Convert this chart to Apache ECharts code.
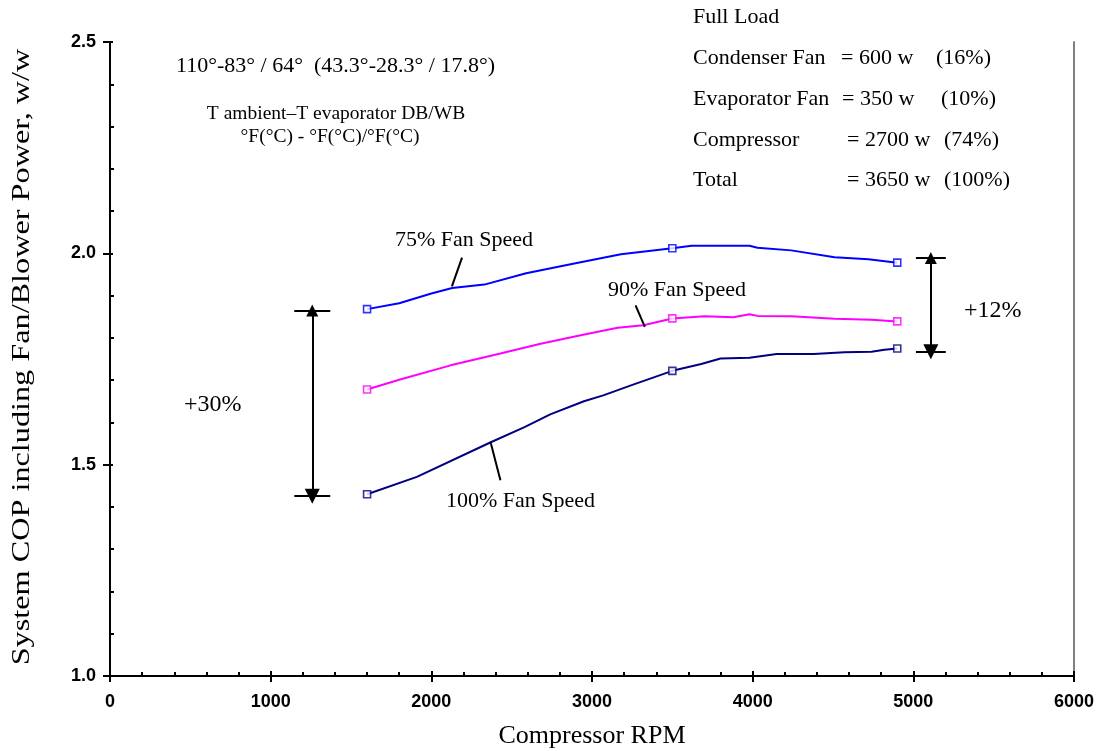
<!DOCTYPE html>
<html>
<head>
<meta charset="utf-8">
<script src="https://cdn.jsdelivr.net/npm/echarts@6/dist/echarts.min.js"></script>
<style>html,body{margin:0;padding:0;background:#fff}#c{width:1098px;height:751px}</style>
</head>
<body>
<div id="c"></div>
<script>
// ---- data ----
const xTicks = [0, 1000, 2000, 3000, 4000, 5000, 6000];
const yTicks = [1.0, 1.5, 2.0, 2.5];

const rpm75 = [1600,1800,2000,2130,2330,2590,2890,3180,3500,3620,3980,4030,4240,4510,4720,4900];
const cop75 = [1.868,1.882,1.905,1.918,1.926,1.953,1.976,1.998,2.012,2.018,2.018,2.013,2.007,1.991,1.986,1.978];

const rpm90 = [1600,1800,2120,2430,2680,2930,3160,3320,3500,3700,3880,3980,4030,4240,4510,4740,4900];
const cop90 = [1.678,1.701,1.735,1.763,1.786,1.806,1.824,1.830,1.846,1.851,1.849,1.856,1.852,1.851,1.845,1.843,1.839];

const rpm100 = [1600,1910,2370,2580,2740,2950,3070,3260,3500,3680,3800,3980,4150,4380,4570,4740,4820,4900];
const cop100 = [1.430,1.471,1.553,1.589,1.619,1.650,1.664,1.690,1.722,1.738,1.751,1.753,1.762,1.762,1.766,1.767,1.772,1.775];

const markerRpm = [1600, 3500, 4900];

const seriesNames = ['75% Fan Speed', '90% Fan Speed', '100% Fan Speed'];
const xTitle = 'Compressor RPM';
const yTitle = 'System COP including Fan/Blower Power, w/w';

// annotation geometry in data units
const leader75 = [[2191, 1.990], [2128, 1.922]];
const leader90 = [[3271, 1.877], [3329, 1.826]];
const leader100 = [[2368, 1.554], [2430, 1.463]];
const arrow30 = { x: 1259, top: 1.865, bottom: 1.4255, half: 112 };
const arrow12 = { x: 5109, top: 1.989, bottom: 1.767, half: 93 };

const condText = '110°-83° / 64°  (43.3°-28.3° / 17.8°)';
const legendLine1 = 'T ambient–T evaporator DB/WB';
const legendLine2 = '°F(°C) - °F(°C)/°F(°C)';
const loadTitle = 'Full Load';
const loadLabels = ['Condenser Fan', 'Evaporator Fan', 'Compressor', 'Total'];
const loadValues = ['= 600 w', '= 350 w', '= 2700 w', '= 3650 w'];
const loadPercents = ['(16%)', '(10%)', '(74%)', '(100%)'];

// ---- build ----
const zip = (a, b) => a.map((v, i) => [v, b[i]]);
const d75 = zip(rpm75, cop75), d90 = zip(rpm90, cop90), d100 = zip(rpm100, cop100);
const marks = d => d.filter(p => markerRpm.includes(p[0]));
const colors = ['#0000ff', '#ff00ff', '#000080'];
const serif = 'Liberation Serif';

function lineSeries(name, data, color) {
  return { name, type: 'line', data, xAxisIndex: 0, yAxisIndex: 0, showSymbol: false, symbol: 'none',
    lineStyle: { color, width: 2 }, z: 3, silent: true, animation: false };
}
function markerSeries(data, color) {
  return { type: 'scatter', data: marks(data), symbol: 'rect', symbolSize: 7, z: 5, silent: true,
    itemStyle: { color: '#fff', borderColor: color, borderWidth: 1.6 }, animation: false };
}
function cap(a, y) { return { coords: [[a.x - a.half, y], [a.x + a.half, y]] }; }

const segs = [
  { coords: leader75 }, { coords: leader90 }, { coords: leader100 },
  cap(arrow30, arrow30.top), cap(arrow30, arrow30.bottom),
  cap(arrow12, arrow12.top), cap(arrow12, arrow12.bottom)
];
const arrows = [
  { coords: [[arrow30.x, arrow30.top], [arrow30.x, arrow30.bottom]] },
  { coords: [[arrow12.x, arrow12.top], [arrow12.x, arrow12.bottom]] }
];

const tickFont = { fontFamily: 'Liberation Sans', fontWeight: 'bold', fontSize: 18, color: '#000' };

const option = {
  animation: false,
  backgroundColor: '#fff',
  grid: { left: 110, right: 24, top: 42, bottom: 75, containLabel: false, outerBoundsMode: 'none' },
  xAxis: [
    { type: 'value', min: 0, max: 6000, interval: 1000, position: 'bottom',
      name: xTitle, nameLocation: 'middle', nameGap: 47, nameMoveOverlap: false,
      nameTextStyle: { fontFamily: serif, fontSize: 26, color: '#000' },
      axisLine: { show: true, lineStyle: { color: '#000', width: 2 } },
      axisTick: { show: true, length: 6, lineStyle: { color: '#000', width: 2 } },
      axisLabel: Object.assign({ margin: 17, formatter: v => xTicks.includes(v) ? String(v) : '' }, tickFont),
      splitLine: { show: false } },
    { type: 'value', min: 0, max: 6000, interval: 1000, position: 'bottom',
      axisLine: { show: false }, axisLabel: { show: false }, splitLine: { show: false },
      axisTick: { show: true, inside: true, length: 5, lineStyle: { color: '#000', width: 2 } },
      minorTick: { show: true, splitNumber: 5, length: 4, lineStyle: { color: '#000', width: 2 } } }
  ],
  yAxis: [
    { type: 'value', min: 1, max: 2.5, interval: 0.5, position: 'left',
      axisLine: { show: true, lineStyle: { color: '#000', width: 2 } },
      axisTick: { show: true, length: 7, lineStyle: { color: '#000', width: 2 } },
      axisLabel: Object.assign({ margin: 14, formatter: v => yTicks.some(t => Math.abs(t - v) < 1e-9) ? v.toFixed(1) : '' }, tickFont),
      splitLine: { show: false } },
    { type: 'value', min: 1, max: 2.5, interval: 0.5, position: 'left',
      axisLine: { show: false }, axisLabel: { show: false }, splitLine: { show: false },
      axisTick: { show: true, inside: true, length: 3, lineStyle: { color: '#000', width: 2 } },
      minorTick: { show: true, splitNumber: 5, length: 4, lineStyle: { color: '#000', width: 2 } } },
    { type: 'value', min: 1, max: 2.5, position: 'right',
      axisLine: { show: true, lineStyle: { color: '#808080', width: 2 } },
      axisTick: { show: false }, axisLabel: { show: false }, splitLine: { show: false } }
  ],
  series: [
    lineSeries(seriesNames[0], d75, colors[0]),
    lineSeries(seriesNames[1], d90, colors[1]),
    lineSeries(seriesNames[2], d100, colors[2]),
    markerSeries(d75, colors[0]),
    markerSeries(d90, colors[1]),
    markerSeries(d100, colors[2]),
    { type: 'lines', coordinateSystem: 'cartesian2d', data: segs, silent: true, z: 4,
      lineStyle: { color: '#000', width: 2, opacity: 1 }, symbol: 'none', animation: false },
    { type: 'lines', coordinateSystem: 'cartesian2d', data: arrows, silent: true, z: 4,
      lineStyle: { color: '#000', width: 2, opacity: 1 }, symbol: ['triangle', 'triangle'], symbolSize: [12, 15],
      itemStyle: { color: '#000' }, animation: false }
  ],
  graphic: []
};

function txt(text, x, y, size, align) {
  return { type: 'text', x, y, silent: true, z: 10,
    style: { text, fill: '#000', font: size + 'px "' + serif + '"', fontFamily: serif, fontSize: size,
      textAlign: align || 'left', align: align || 'left', textVerticalAlign: 'middle', verticalAlign: 'middle' } };
}
const g = option.graphic;
const yt = txt(yTitle, 22, 357, 26, 'center');
yt.rotation = Math.PI / 2;
yt.scaleX = 1.24;
g.push(yt);
g.push(txt(condText, 176, 66, 22));
g.push(txt(legendLine1, 336, 114, 19.5, 'center'));
g.push(txt(legendLine2, 330, 137, 19.5, 'center'));
g.push(txt(seriesNames[0], 395, 240, 22));
g.push(txt(seriesNames[1], 608, 290, 22));
g.push(txt(seriesNames[2], 446, 501, 22));
g.push(txt('+30%', 184, 405, 24));
g.push(txt('+12%', 964, 311, 24));
g.push(txt(loadTitle, 693, 17, 22));
const rowY = [58, 99, 140, 180];
const valX = [841, 842, 847, 847];
const pctX = [936, 941, 944, 944];
loadLabels.forEach((l, i) => {
  g.push(txt(l, 693, rowY[i], 22));
  g.push(txt(loadValues[i], valX[i], rowY[i], 22));
  g.push(txt(loadPercents[i], pctX[i], rowY[i], 22));
});

const chart = echarts.init(document.getElementById('c'), null, { renderer: 'canvas' });
chart.setOption(option);
</script>
</body>
</html>
